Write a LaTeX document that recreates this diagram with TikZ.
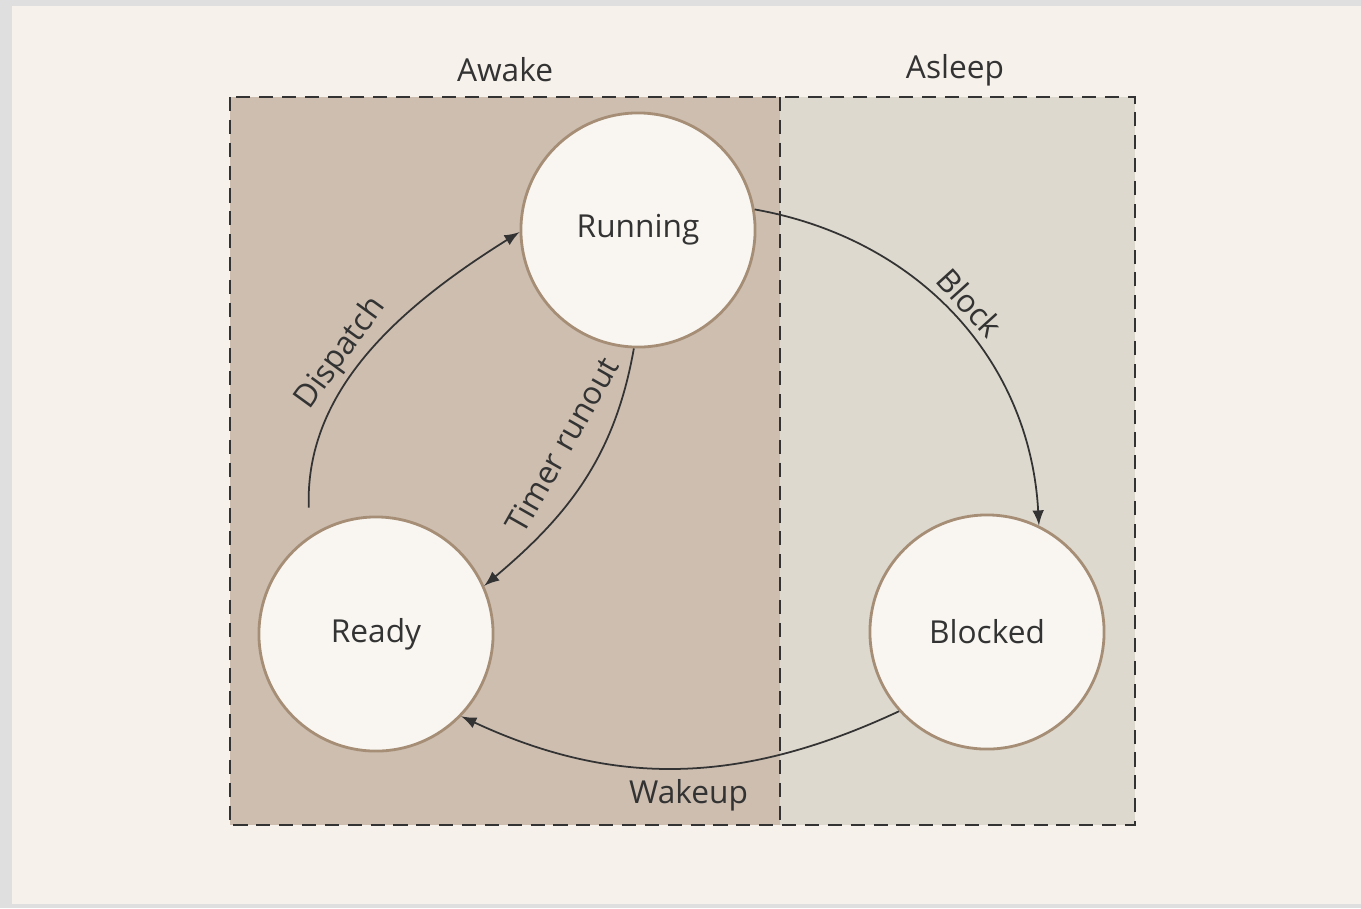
\documentclass[tikz,border=0pt]{standalone}
\usepackage{fontspec}
\setmainfont{Open Sans}
\usepackage{xcolor}
\usetikzlibrary{arrows}

\definecolor{paper}{HTML}{F6F1EB}
\definecolor{awakefill}{HTML}{CDBEB0}
\definecolor{asleepfill}{HTML}{DDD9CE}
\definecolor{ringcol}{HTML}{A68E76}
\definecolor{discfill}{HTML}{F9F6F1}
\definecolor{inkcol}{HTML}{333333}

\tikzset{
  state/.style={circle, draw=ringcol, line width=0.8pt, fill=discfill,
    minimum size=2.34cm, inner sep=0pt, font=\fontsize{9}{11}\selectfont, text=inkcol},
  trans/.style={>=latex, ->, draw=inkcol, line width=0.5pt},
  lbl/.style={font=\fontsize{9}{11}\selectfont, text=inkcol, inner sep=2pt},
  zone/.style={draw=inkcol, line width=0.6pt, dash pattern=on 4pt off 2.5pt}
}

\begin{document}
\begin{tikzpicture}[x=0.01cm, y=-0.01cm]

\useasboundingbox (0,0) rectangle (1361,908);
\fill [gray!25] (0,0) rectangle (1361,908);
\fill [paper] (12,6) rectangle (1361,904);

% the two zones
\fill [awakefill] (230,97) rectangle (780,825);
\fill [asleepfill] (780,97) rectangle (1135,825);
\draw [zone] (230,97) rectangle (1135,825);
\draw [zone] (780,97) -- (780,825);

\node [lbl] (awake) at (505,70) {Awake};
\node [lbl] (asleep) at (955,70) {Asleep};

% states
\node [state] (running) at (638,230) {Running};
\node [state] (ready) at (376,634) {Ready};
\node [state] (blocked) at (987,632) {Blocked};

% transitions
\draw [trans, shorten <=8pt] (ready.124) to[out=92, in=212]
  node [lbl, pos=0.47, sloped, above] {Dispatch} (running.181);
\draw [trans] (running.-92) to[out=-100, in=40]
  node [lbl, pos=0.42, sloped, above=5pt] {Timer runout} (ready.24);
\draw [trans] (running.10) to[out=-10, in=93]
  node [lbl, pos=0.5, sloped, above] {Block} (blocked.64);
\draw [trans] (blocked.222) to[out=205, in=-25]
  node [lbl, pos=0.48, below=1pt] {Wakeup} (ready.-44);

\end{tikzpicture}
\end{document}
